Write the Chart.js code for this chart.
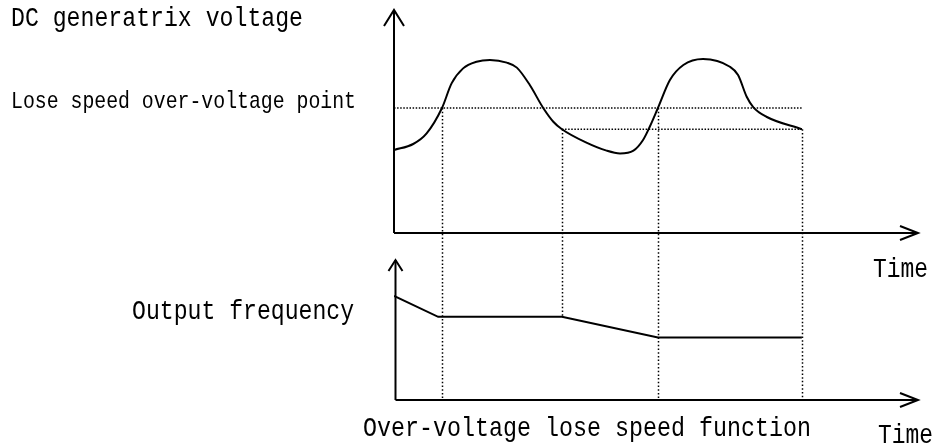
<!DOCTYPE html>
<html lang="en">
<head>
    <meta charset="UTF-8">
    <title>Over-voltage lose speed function</title>
    <script src="https://cdn.jsdelivr.net/npm/chart.js"></script>
    <style>
        html, body { margin: 0; padding: 0; background: #fff; }
        .chart-container { position: relative; width: 935px; height: 446px; }
    </style>
</head>
<body>
    <div class="chart-container">
        <canvas id="stallChart"></canvas>
    </div>

    <script>
        // DC bus voltage over time
        const voltT = [0, 4.0, 6.8, 10, 12.0, 14.4, 17.2, 20, 23.5, 25.6, 28.3, 31.1, 33.2, 35,
                       40.1, 44.3, 47.1, 49.9, 51.9, 53.3, 55, 57.5, 60.3, 64.4, 70, 71.7, 73.5, 74.9, 77.6, 85];
        const voltV = [66.4, 71.2, 79.7, 100, 119.7, 131.7, 137, 138.4, 136.3, 132.3, 118.4, 100, 89, 83,
                       72.3, 65.9, 63.7, 65.9, 74.4, 85, 100, 122.4, 134.4, 139.2, 133, 126.4, 109, 100.5, 93, 83];

        // output frequency over time
        const freqT = [0, 9.2, 35, 55, 85];
        const freqHz = [50, 40, 40, 30, 30];

        // stall threshold and the level where the drive resumes
        const stallLevel = 100;
        const resumeLevel = 83;

        // switching instants: voltage where each guide starts, frequency where it ends
        const eventT = [10, 35, 55, 85];
        const eventV = [100, 83, 100, 83];
        const eventHz = [0, 40, 0, 0];

        // axis ends
        const timeEnd = 109.2;
        const voltTop = 178.4;
        const voltBottom = -133.6;
        const freqTop = 67.3;
        const freqMax = 187.5;

        const textFont = 'Liberation Mono, DejaVu Sans Mono, monospace';

        function arrowLine(ctx, x0, y0, x1, y1, wingBack, wingSide) {
            ctx.beginPath();
            ctx.moveTo(x0, y0);
            ctx.lineTo(x1, y1);
            ctx.stroke();
            const ang = Math.atan2(y1 - y0, x1 - x0);
            const c = Math.cos(ang), s = Math.sin(ang);
            ctx.beginPath();
            ctx.moveTo(x1 - wingBack * c + wingSide * s, y1 - wingBack * s - wingSide * c);
            ctx.lineTo(x1, y1);
            ctx.lineTo(x1 - wingBack * c - wingSide * s, y1 - wingBack * s + wingSide * c);
            ctx.stroke();
        }

        function label(ctx, text, x, y, size, width) {
            ctx.font = size + 'px ' + textFont;
            ctx.fillText(text, x, y, width);
        }

        // axes with arrow heads, vertical guides and captions
        const diagramPlugin = {
            id: 'diagram',
            afterDatasetsDraw(chart) {
                const ctx = chart.ctx;
                const xs = chart.scales.x;
                const yv = chart.scales.yV;
                const yf = chart.scales.yF;

                ctx.save();
                ctx.strokeStyle = '#000';
                ctx.lineCap = 'butt';
                ctx.lineJoin = 'miter';

                // dotted guides from the voltage trace down to the frequency panel
                ctx.lineWidth = 1.5;
                ctx.setLineDash([1.5, 2.2]);
                eventT.forEach((t, i) => {
                    const px = Math.round(xs.getPixelForValue(t)) + 0.5;
                    ctx.beginPath();
                    ctx.moveTo(px, yv.getPixelForValue(eventV[i]));
                    ctx.lineTo(px, yf.getPixelForValue(eventHz[i]));
                    ctx.stroke();
                });
                ctx.setLineDash([]);

                // axes
                ctx.lineWidth = 2;
                const x0 = xs.getPixelForValue(0);
                const xEnd = xs.getPixelForValue(timeEnd);
                arrowLine(ctx, x0, yv.getPixelForValue(0), x0, yv.getPixelForValue(voltTop), 16, 10);
                arrowLine(ctx, x0, yv.getPixelForValue(0), xEnd, yv.getPixelForValue(0), 18, 7);
                arrowLine(ctx, x0 + 1.5, yf.getPixelForValue(0), x0 + 1.5, yf.getPixelForValue(freqTop), 11, 7);
                arrowLine(ctx, x0 + 1.5, yf.getPixelForValue(0), xEnd, yf.getPixelForValue(0), 18, 7);

                // captions
                ctx.fillStyle = '#000';
                ctx.textBaseline = 'alphabetic';
                ctx.textAlign = 'left';
                label(ctx, 'DC generatrix voltage', 11, 26, 28, 292);
                label(ctx, 'Lose speed over-voltage point', 11, 108, 24, 345);
                label(ctx, 'Time', 873, 277, 28, 55);
                label(ctx, 'Output frequency', 132, 319, 28, 222);
                label(ctx, 'Over-voltage lose speed function', 363, 436, 28, 448);
                label(ctx, 'Time', 878, 443, 28, 55);
                ctx.restore();
            }
        };

        const toPoints = (xs, ys) => xs.map((x, i) => ({ x: x, y: ys[i] }));

        new Chart(document.getElementById('stallChart'), {
            type: 'line',
            data: {
                datasets: [
                    {
                        label: 'DC generatrix voltage',
                        data: toPoints(voltT, voltV),
                        yAxisID: 'yV',
                        borderColor: '#000',
                        borderWidth: 2,
                        pointRadius: 0,
                        cubicInterpolationMode: 'monotone'
                    },
                    {
                        label: 'Lose speed over-voltage point',
                        data: toPoints([0, eventT[3]], [stallLevel, stallLevel]),
                        yAxisID: 'yV',
                        borderColor: '#000',
                        borderWidth: 1.5,
                        borderDash: [1.5, 1.6],
                        pointRadius: 0
                    },
                    {
                        label: 'Resume level',
                        data: toPoints([eventT[1], eventT[3]], [resumeLevel, resumeLevel]),
                        yAxisID: 'yV',
                        borderColor: '#000',
                        borderWidth: 1.5,
                        borderDash: [1.5, 1.6],
                        pointRadius: 0
                    },
                    {
                        label: 'Output frequency',
                        data: toPoints(freqT, freqHz),
                        yAxisID: 'yF',
                        borderColor: '#000',
                        borderWidth: 2,
                        pointRadius: 0,
                        tension: 0
                    }
                ]
            },
            options: {
                responsive: true,
                maintainAspectRatio: false,
                animation: false,
                layout: {
                    padding: { left: 394, right: 17, top: 10, bottom: 46 }
                },
                scales: {
                    x: { type: 'linear', min: 0, max: timeEnd, display: false },
                    yV: { type: 'linear', min: voltBottom, max: voltTop, display: false },
                    yF: { type: 'linear', min: 0, max: freqMax, display: false }
                },
                plugins: {
                    legend: { display: false },
                    tooltip: { enabled: false }
                }
            },
            plugins: [diagramPlugin]
        });
    </script>
</body>
</html>
